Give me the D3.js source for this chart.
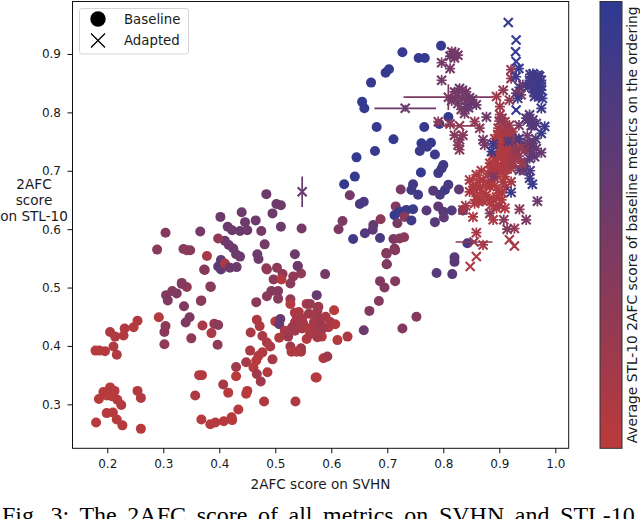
<!DOCTYPE html>
<html>
<head>
<meta charset="utf-8">
<script src="https://cdn.jsdelivr.net/npm/d3@7"></script>
<style>
  html, body { margin: 0; padding: 0; background: #fff; overflow: hidden; }
  text { font-family: "DejaVu Sans", sans-serif; fill: #1a1a1a; }
</style>
</head>
<body>
<svg id="chart" width="640" height="519"></svg>
<script>
const xTicks = [0.2, 0.3, 0.4, 0.5, 0.6, 0.7, 0.8, 0.9, 1.0];
const yTicks = [0.3, 0.4, 0.5, 0.6, 0.7, 0.8, 0.9];
const colorStops = ["#bb3a3a", "#2e3a94"];
const legendItems = ["Baseline", "Adapted"];
const yLabelLines = ["2AFC", "score", "on STL-10"];
const xLabel = "2AFC score on SVHN";
const colorbarLabel = "Average STL-10 2AFC score of baseline metrics on the ordering";
const caption = "Fig. 3: The 2AFC score of all metrics on SVHN and STL-10";

// svhn, stl10, colour position on the colorbar (0 bottom, 1 top)
const baseline = [
  [.180,.269,.02],[.199,.285,.03],[.210,.286,.03],[.217,.274,.03],[.227,.264,.04],[.260,.258,.03],
  [.185,.309,.03],[.193,.321,.03],[.205,.329,.03],[.213,.323,.03],[.199,.315,.03],[.208,.314,.03],
  [.218,.308,.04],[.225,.299,.05],[.254,.323,.05],[.260,.311,.05],[.179,.392,.03],[.186,.392,.03],
  [.196,.391,.05],[.211,.399,.08],[.217,.385,.08],[.205,.424,.08],[.214,.416,.08],[.229,.418,.06],
  [.231,.430,.07],[.247,.432,.05],[.254,.443,.07],[.292,.449,.05],[.302,.403,.3],[.302,.424,.35],
  [.304,.434,.32],[.305,.487,.42],[.308,.478,.42],[.316,.494,.42],[.324,.490,.42],[.333,.506,.42],
  [.342,.501,.32],[.337,.468,.42],[.340,.440,.42],[.347,.449,.45],[.350,.413,.3],[.368,.478,.35],
  [.384,.502,.35],[.370,.435,.15],[.386,.422,.12],[.391,.438,.25],[.398,.436,.35],[.397,.402,.3],
  [.374,.530,.38],[.364,.350,.05],[.369,.350,.05],[.357,.315,.1],[.368,.274,.03],[.384,.266,.05],
  [.393,.269,.05],[.408,.271,.03],[.423,.273,.02],[.422,.278,.02],[.434,.291,.05],[.407,.334,.15],
  [.416,.320,.03],[.430,.364,.2],[.430,.348,.02],[.448,.372,.15],[.455,.392,.12],[.456,.423,.12],
  [.467,.445,.1],[.472,.434,.1],[.477,.417,.12],[.485,.406,.12],[.491,.399,.12],[.477,.389,.08],
  [.470,.383,.05],[.466,.375,.02],[.461,.363,.03],[.467,.352,.2],[.474,.339,.2],[.486,.355,.06],
  [.495,.377,.15],[.450,.323,.02],[.448,.318,.02],[.480,.305,.1],[.536,.305,.1],[.572,.346,.1],
  [.466,.475,.35],[.485,.485,.35],[.493,.494,.38],[.505,.494,.4],[.505,.481,.35],[.497,.514,.35],
  [.503,.534,.32],[.513,.523,.32],[.511,.514,.05],[.527,.507,.35],[.532,.519,.3],[.546,.524,.3],
  [.540,.537,.45],[.485,.531,.3],[.527,.480,.3],[.527,.472,.05],[.500,.442,.02],[.507,.437,.6],
  [.509,.446,.6],[.517,.426,.15],[.507,.414,.08],[.523,.416,.2],[.535,.457,.1],[.542,.458,.1],
  [.548,.447,.1],[.535,.440,.15],[.548,.430,.15],[.535,.426,.2],[.556,.412,.05],[.527,.399,.2],
  [.529,.390,.08],[.546,.390,.1],[.546,.396,.2],[.538,.390,.08],[.556,.472,.15],[.574,.487,.6],
  [.562,.472,.25],[.577,.467,.25],[.605,.461,.02],[.575,.450,.25],[.569,.441,.15],[.580,.439,.2],
  [.571,.430,.2],[.580,.424,.15],[.583,.416,.05],[.598,.441,.2],[.607,.437,.05],[.595,.432,.08],
  [.538,.445,.15],[.550,.438,.15],[.560,.455,.2],[.575,.460,.2],[.585,.430,.2],[.560,.430,.1],
  [.590,.450,.12],[.575,.415,.15],[.562,.420,.12],[.541,.450,.15],[.545,.440,.15],[.530,.432,.2],
  [.611,.410,.05],[.629,.416,.1],[.586,.379,.08],[.593,.382,.2],[.574,.346,.05],[.658,.427,.55],
  [.668,.460,.42],[.685,.477,.4],[.687,.511,.42],[.695,.500,.42],[.699,.540,.42],[.589,.523,.5],
  [.788,.525,.7],[.816,.523,.7],[.820,.544,.7],[.714,.511,.4],[.727,.430,.4],[.752,.450,.4],
  [.484,.660,.55],[.502,.643,.55],[.510,.641,.55],[.495,.627,.55],[.440,.629,.55],[.402,.621,.55],
  [.446,.612,.55],[.465,.615,.55],[.415,.604,.55],[.423,.598,.55],[.437,.597,.55],[.450,.598,.55],
  [.475,.597,.5],[.510,.604,.55],[.547,.601,.5],[.304,.594,.4],[.366,.596,.5],[.410,.580,.55],
  [.417,.573,.55],[.425,.567,.55],[.430,.557,.55],[.437,.553,.55],[.481,.574,.5],[.468,.557,.55],
  [.470,.549,.55],[.535,.557,.55],[.540,.537,.55],[.289,.565,.35],[.336,.566,.35],[.342,.564,.35],
  [.348,.564,.35],[.398,.584,.3],[.378,.554,.15],[.373,.531,.38],[.403,.547,.65],[.398,.536,.7],
  [.403,.531,.65],[.410,.541,.15],[.419,.534,.55],[.431,.535,.55],[.484,.533,.3],[.333,.508,.4],
  [.367,.477,.35],[.385,.501,.35],
  [.796,.914,.95],[.727,.903,.95],[.756,.893,.95],[.767,.893,.95],[.703,.874,.95],[.697,.868,.95],
  [.671,.851,.95],[.655,.818,.95],[.659,.807,.95],[.681,.775,.95],[.766,.775,.95],[.809,.792,.95],
  [.793,.780,.95],[.711,.754,.95],[.678,.734,.92],[.645,.723,.95],[.761,.747,.95],[.758,.734,.9],
  [.778,.748,.95],[.771,.741,.9],[.785,.728,.9],[.760,.697,.95],[.791,.696,.85],[.797,.704,.85],
  [.800,.710,.85],[.642,.690,.95],[.623,.677,.95],[.633,.658,.5],[.651,.643,.8],[.658,.647,.8],
  [.724,.668,.5],[.746,.677,.85],[.743,.667,.85],[.755,.659,.85],[.782,.666,.7],[.794,.659,.8],
  [.803,.667,.85],[.809,.676,.8],[.828,.668,.65],[.715,.639,.4],[.770,.632,.7],[.791,.639,.65],
  [.800,.630,.7],[.801,.620,.65],[.815,.632,.75],[.835,.632,.85],[.713,.624,.95],[.722,.630,.9],
  [.734,.633,.9],[.746,.634,.9],[.731,.621,.35],[.743,.615,.85],[.718,.610,.5],[.785,.612,.7],
  [.620,.614,.45],[.613,.600,.45],[.688,.617,.35],[.675,.607,.6],[.674,.599,.65],[.660,.593,.75],
  [.639,.583,.85],[.687,.585,.8],[.711,.583,.45],[.722,.584,.4],[.730,.586,.35],[.713,.567,.4],
  [.698,.559,.4],[.820,.552,.7],[.843,.576,.8],[.699,.558,.4],[.714,.564,.4],[.699,.540,.42]
];

// svhn, stl10, colour, then optional x error and y error (default smallErr)
const smallErr = 0.009;
const adapted = [
  [.815,.904,.5],[.826,.898,.5],[.820,.893,.5],[.797,.885,.5],[.812,.875,.5],[.797,.855,.5],
  [.821,.902,.5],[.812,.896,.55],
  [.829,.841,.55],[.820,.835,.55],[.841,.835,.5],[.809,.826,.45,.08,.022],[.820,.824,.5],[.841,.821,.6],
  [.850,.815,.55],[.859,.813,.55],[.841,.810,.6],[.838,.798,.5],[.732,.807,.55,.055,.006],[.791,.784,.35],
  [.826,.815,.55],[.833,.825,.5],[.847,.825,.55],[.832,.805,.5],[.845,.808,.6],[.825,.833,.5],
  [.834,.838,.5],[.815,.820,.5],[.852,.822,.55],
  [.812,.780,.3],[.829,.777,.3,.028,.003],[.856,.784,.3],[.877,.792,.55],[.865,.773,.35],[.820,.761,.4],
  [.835,.761,.35],[.829,.753,.4],[.826,.744,.35],[.829,.736,.4],[.874,.744,.5],[.871,.753,.5],
  [.548,.664,.6,.001,.026],
  [.916,.954,.95,0,0],[.930,.924,.95,0,0],[.929,.904,.95,0,0],[.930,.887,.95,.002,.002],[.935,.875,.95],
  [.921,.873,.3],[.921,.858,.3],[.930,.861,.9],[.936,.843,.9],[.942,.847,.55],[.930,.833,.6],[.939,.830,.4],
  [.907,.838,.3],[.895,.827,.2],[.918,.821,.3],[.930,.804,.95,.003,.003],[.933,.824,.9],[.901,.810,.2],[.935,.778,.5],
  [.960,.866,.9],[.969,.864,.9],[.954,.855,.85],[.963,.853,.85],[.975,.855,.9],[.951,.844,.85],
  [.966,.843,.85],[.960,.841,.85],[.975,.838,.9],[.972,.827,.9],[.977,.824,.9],[.963,.827,.85],
  [.958,.860,.88],[.966,.860,.88],[.970,.848,.9],[.958,.848,.85],[.968,.834,.9],[.975,.845,.9],
  [.972,.862,.85],[.962,.835,.85],[.955,.865,.85],
  [.975,.807,.9],[.954,.796,.7],[.951,.787,.7],[.960,.787,.7],[.957,.777,.7],[.966,.781,.7],
  [.948,.790,.7],[.960,.778,.72],[.965,.755,.7],[.950,.760,.55],
  [.981,.776,.9],[.975,.764,.9],[.960,.747,.65],[.951,.747,.65],[.954,.736,.6],[.966,.738,.6],
  [.955,.745,.6],[.948,.740,.6],[.958,.730,.6],
  [.975,.731,.6],[.963,.724,.65],[.954,.721,.65],[.942,.713,.7],[.936,.701,.6],[.945,.701,.6],
  [.954,.687,.85],[.959,.677,.9],[.968,.648,.55],[.936,.634,.35],[.948,.616,.45],[.927,.601,.3],
  [.914,.600,.4],[.908,.616,.35],[.918,.582,.15,.003,.003],[.927,.571,.15,.003,.003],[.859,.594,.15],
  [.855,.578,.3,.033,.002],[.871,.573,.15],[.859,.553,.1,.002,.002],[.848,.536,.1,0,0],
  [.945,.735,.4],[.940,.745,.45],[.955,.700,.8],[.945,.715,.75],
  [.901,.796,.2],[.910,.784,.2],[.898,.773,.15],[.918,.778,.25],[.907,.764,.1],[.892,.755,.1],
  [.916,.758,.1],[.924,.767,.2],[.904,.744,.1],[.918,.747,.15],[.930,.753,.35],[.936,.738,.2],
  [.924,.736,.15],[.910,.730,.1],[.895,.727,.1],[.883,.713,.1],[.898,.710,.08],[.913,.713,.1],
  [.927,.721,.15],[.889,.699,.1],[.904,.699,.1],[.921,.704,.2],[.940,.713,.2],[.907,.681,.1],
  [.921,.681,.15],[.859,.693,.1],[.847,.684,.1],[.871,.684,.1],[.853,.673,.1],[.847,.664,.1],
  [.865,.670,.1],[.883,.673,.1],[.898,.667,.1],[.877,.659,.1],[.859,.656,.1],[.889,.650,.1],
  [.904,.650,.1],[.871,.648,.1],[.856,.644,.1],[.835,.633,.2],[.853,.621,.1],[.883,.627,.4],
  [.889,.616,.1],[.886,.642,.1],[.910,.636,.1],[.895,.636,.1],[.900,.760,.1],[.908,.728,.1],
  [.893,.700,.1],[.912,.745,.1],[.903,.722,.1],
  [.905,.790,.3],[.912,.775,.25],[.900,.785,.3],[.906,.770,.2],[.915,.765,.15],[.897,.762,.1],
  [.905,.755,.08],[.913,.752,.08],[.922,.758,.15],[.928,.745,.25],[.895,.748,.08],[.900,.738,.08],
  [.908,.740,.08],[.916,.735,.1],[.925,.728,.2],[.888,.726,.1],[.893,.718,.08],[.902,.728,.08],
  [.910,.720,.08],[.918,.722,.12],[.885,.705,.08],[.895,.702,.08],[.903,.710,.08],[.912,.703,.1],
  [.920,.712,.15],[.880,.695,.08],[.897,.690,.08],[.910,.690,.08],[.935,.725,.25],[.930,.735,.3],
  [.925,.715,.2],[.868,.700,.1],[.862,.680,.1],[.875,.675,.08],[.856,.668,.1],[.885,.682,.08],
  [.892,.675,.08],[.870,.662,.08],[.880,.650,.08],[.862,.648,.1],[.895,.655,.08],[.912,.672,.15],
  [.905,.662,.1],[.840,.640,.15],[.900,.640,.15],
  [.889,.746,.9],[.886,.733,.9],[.889,.690,.45],[.921,.663,.9],[.916,.750,.7],[.935,.755,.8]
];

const width = 640, height = 519;
const margin = { top: 1.5, right: 71.3, bottom: 70.7, left: 72.5 };
const innerW = width - margin.left - margin.right;
const innerH = height - margin.top - margin.bottom;

const x = d3.scaleLinear().domain([0.1379, 1.0239]).range([0, innerW]);
const y = d3.scaleLinear().domain([0.2247, 0.9899]).range([innerH, 0]);
const color = d3.scaleLinear().domain([0, 1]).range(colorStops).interpolate(d3.interpolateRgb);

const svg = d3.select("#chart");
const g = svg.append("g").attr("transform", `translate(${margin.left},${margin.top})`);

g.selectAll(".base")
  .data(baseline)
  .join("circle")
  .attr("class", "base")
  .attr("cx", d => x(d[0]))
  .attr("cy", d => y(d[1]))
  .attr("r", 5)
  .attr("fill", d => color(d[2]));

const crossR = 4.5;
const marks = g.selectAll(".adapted").data(adapted).join("g").attr("class", "adapted")
  .attr("stroke", d => color(d[2]))
  .attr("fill", "none");

marks.append("path")
  .attr("stroke-width", 2.1)
  .attr("d", d => {
    const px = x(d[0]), py = y(d[1]);
    return `M${px - crossR},${py - crossR}L${px + crossR},${py + crossR}M${px - crossR},${py + crossR}L${px + crossR},${py - crossR}`;
  });

marks.append("path")
  .attr("stroke-width", 1.7)
  .attr("d", d => {
    const xe = d.length > 3 ? d[3] : smallErr;
    const ye = d.length > 3 ? d[4] : smallErr;
    return `M${x(d[0] - xe)},${y(d[1])}L${x(d[0] + xe)},${y(d[1])}M${x(d[0])},${y(d[1] - ye)}L${x(d[0])},${y(d[1] + ye)}`;
  });

// frame and axes
g.append("rect")
  .attr("width", innerW).attr("height", innerH)
  .attr("fill", "none").attr("stroke", "#111").attr("stroke-width", 1);

const xAxis = g.append("g")
  .attr("transform", `translate(0,${innerH})`)
  .call(d3.axisBottom(x).tickValues(xTicks).tickFormat(d3.format(".1f")).tickSize(5).tickPadding(6));
const yAxis = g.append("g")
  .call(d3.axisLeft(y).tickValues(yTicks).tickFormat(d3.format(".1f")).tickSize(5).tickPadding(6.5));
[xAxis, yAxis].forEach(a => {
  a.select(".domain").remove();
  a.selectAll("line").attr("stroke", "#111");
  a.selectAll("text").style("font-size", "12px").style("font-family", '"DejaVu Sans"').attr("fill", "#1a1a1a");
});

svg.append("text")
  .attr("x", 320.5).attr("y", 489)
  .attr("text-anchor", "middle")
  .style("font-size", "13.6px")
  .text(xLabel);

yLabelLines.forEach((t, i) => {
  svg.append("text")
    .attr("x", 34).attr("y", 189 + i * 16)
    .attr("text-anchor", "middle")
    .style("font-size", "13.6px")
    .text(t);
});

// legend
const legend = svg.append("g").attr("transform", "translate(79.5,8.5)");
legend.append("rect")
  .attr("width", 109).attr("height", 45.5).attr("rx", 2.5)
  .attr("fill", "#fff").attr("fill-opacity", 0.8).attr("stroke", "#d5d5d5");
legendItems.forEach((t, i) => {
  const item = legend.append("g").attr("transform", `translate(18.5,${10.5 + i * 21.5})`);
  if (i === 0) {
    item.append("circle").attr("r", 7.7).attr("fill", "#000");
  } else {
    item.append("path").attr("d", "M-7,-7L7,7M-7,7L7,-7").attr("stroke", "#000").attr("stroke-width", 1.3);
  }
  item.append("text")
    .attr("x", 26).attr("y", 4.5)
    .style("font-size", "13.3px")
    .text(t);
});

// colorbar
const defs = svg.append("defs");
const grad = defs.append("linearGradient")
  .attr("id", "cbar").attr("x1", 0).attr("x2", 0).attr("y1", 1).attr("y2", 0);
colorStops.forEach((c, i) => {
  grad.append("stop").attr("offset", i / (colorStops.length - 1)).attr("stop-color", c);
});
svg.append("rect")
  .attr("x", 600).attr("y", margin.top)
  .attr("width", 22).attr("height", innerH)
  .attr("fill", "url(#cbar)").attr("stroke", "#333").attr("stroke-width", 1);

svg.append("text")
  .attr("transform", `translate(636.5,${margin.top + innerH / 2}) rotate(-90)`)
  .attr("text-anchor", "middle")
  .style("font-size", "13.8px")
  .text(colorbarLabel);

// caption of the paper figure, cut by the bottom edge as in the source image
svg.append("text")
  .attr("x", 2).attr("y", 522.5)
  .style("font-family", '"Liberation Serif", serif')
  .style("font-size", "24px")
  .style("word-spacing", "4.6px")
  .style("fill", "#000")
  .text(caption);
</script>
</body>
</html>
